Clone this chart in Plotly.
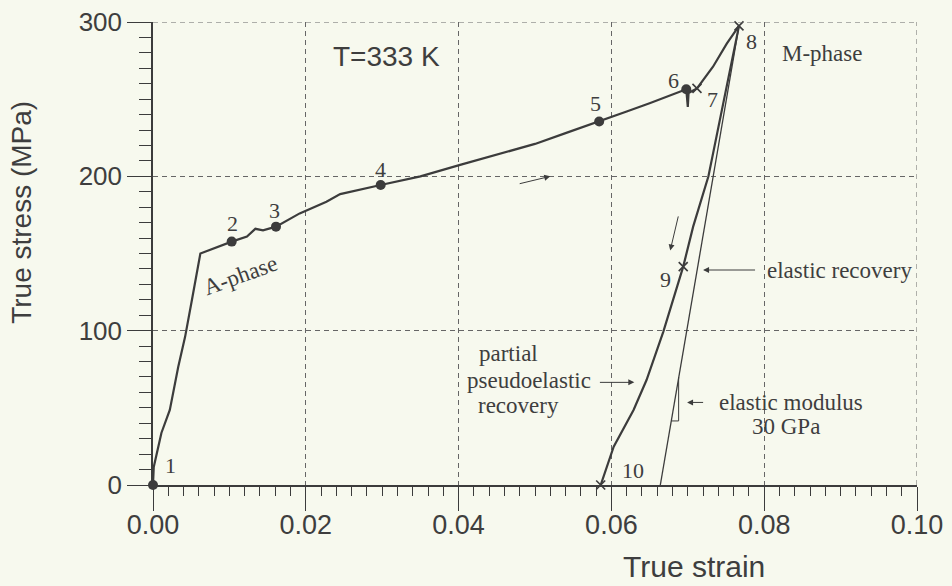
import plotly.graph_objects as go

# Loading path: A-phase elastic, plateau, then M-phase loading up to point 8
load_strain = [0, 0.0001, 0.0011, 0.0022, 0.0033, 0.0042, 0.0051, 0.0062, 0.0103,
               0.0123, 0.0134, 0.0144, 0.0161, 0.0192, 0.0227, 0.0245, 0.0298, 0.0350,
               0.0402, 0.0450, 0.0500, 0.0540, 0.0584, 0.0620, 0.0650, 0.0698, 0.0700,
               0.0701, 0.0712, 0.0733, 0.0751, 0.0767]
load_stress = [0, 11.7, 33.7, 48.6, 76.5, 96, 120, 150, 157.7,
               161, 166, 165, 167.4, 176, 183.6, 188.5, 194.4, 200,
               207.4, 214, 221, 228, 235.5, 242, 247.4, 256.4, 245,
               254, 257, 271, 286, 297.5]

# Unloading path 8 -> 9 -> 10 (partial pseudoelastic recovery)
unload_strain = [0.0767, 0.0727, 0.0707, 0.0694, 0.0668, 0.0646, 0.0629, 0.0603, 0.0586]
unload_stress = [297.5, 200, 167.4, 141.5, 99.4, 68, 48.6, 24.8, 0]

# Purely elastic recovery line from point 8
elastic_strain = [0.0767, 0.0664]
elastic_stress = [297.5, 0]

# Slope triangle on the elastic line
tri_strain = [0.06784, 0.0688, 0.0688]
tri_stress = [41.5, 41.5, 70]

# Numbered states
dot_labels = ["1", "2", "3", "4", "5", "6"]
dot_strain = [0, 0.0103, 0.0161, 0.0298, 0.0584, 0.0698]
dot_stress = [0, 157.7, 167.4, 194.4, 235.5, 256.4]
cross_labels = ["7", "8", "9", "10"]
cross_strain = [0.0712, 0.0767, 0.0694, 0.0586]
cross_stress = [257, 297.5, 141.5, 0]

x_ticks = [0, 0.02, 0.04, 0.06, 0.08, 0.10]
y_ticks = [0, 100, 200, 300]

INK = "#3c3c3c"
TXT = "#3e3e3e"
GRID = "#666666"
BG = "#f7f9ee"
SERIF = "Liberation Serif, Times New Roman, serif"
SANS = "Liberation Sans, Arial, sans-serif"

fig = go.Figure()
fig.add_trace(go.Scatter(x=load_strain, y=load_stress, mode="lines",
                         line=dict(color=INK, width=2.2), hoverinfo="skip"))
fig.add_trace(go.Scatter(x=unload_strain, y=unload_stress, mode="lines",
                         line=dict(color=INK, width=2.2), hoverinfo="skip"))
fig.add_trace(go.Scatter(x=elastic_strain, y=elastic_stress, mode="lines",
                         line=dict(color=INK, width=1.3), hoverinfo="skip"))
fig.add_trace(go.Scatter(x=tri_strain, y=tri_stress, mode="lines",
                         line=dict(color=INK, width=1), hoverinfo="skip"))
fig.add_trace(go.Scatter(x=dot_strain, y=dot_stress, mode="markers",
                         marker=dict(color=INK, size=10, symbol="circle"),
                         cliponaxis=False, hoverinfo="skip"))
fig.add_trace(go.Scatter(x=cross_strain, y=cross_stress, mode="markers",
                         marker=dict(color=INK, size=9, symbol="x-thin",
                                     line=dict(color=INK, width=1.6)),
                         cliponaxis=False, hoverinfo="skip"))

# dashed grid lines on the upper and right edges of the frame
fig.add_shape(type="line", xref="x", yref="y", x0=x_ticks[0], x1=x_ticks[-1],
              y0=y_ticks[-1], y1=y_ticks[-1], line=dict(color=GRID, width=1, dash="5px,4px"))
fig.add_shape(type="line", xref="x", yref="y", x0=x_ticks[-1], x1=x_ticks[-1],
              y0=y_ticks[0], y1=y_ticks[-1], line=dict(color=GRID, width=1, dash="5px,4px"))

# point labels, offset in pixels from each state
label_shift = {"1": (17, 20), "2": (1, 18), "3": (-2, 16), "4": (0, 15), "5": (-4, 18),
               "6": (-13, 9), "7": (16, -11), "8": (13, -16), "9": (-18, -13), "10": (32, 15)}
for lab, xv, yv in zip(dot_labels + cross_labels, dot_strain + cross_strain,
                       dot_stress + cross_stress):
    dx, dy = label_shift[lab]
    fig.add_annotation(x=xv, y=yv, text=lab, showarrow=False, xshift=dx, yshift=dy,
                       font=dict(family=SERIF, size=22, color=TXT))

def note(x, y, text, size=23, family=SERIF, angle=0):
    fig.add_annotation(x=x, y=y, text=text, showarrow=False, textangle=angle,
                       font=dict(family=family, size=size, color=TXT))

note(0.0305, 277.4, "T=333 K", size=28, family=SANS)
note(0.0875, 279.8, "M-phase")
note(0.0114, 136, "A-phase", angle=-20)
note(0.0898, 139.3, "elastic recovery")
note(0.0465, 84.9, "partial")
note(0.0492, 67.9, "pseudoelastic")
note(0.0479, 51.7, "recovery")
note(0.0835, 53.5, "elastic modulus")
note(0.0829, 38.0, "30 GPa")

# axis titles
fig.add_annotation(xref="paper", yref="paper", x=0.708, y=-0.177, text="True strain",
                   showarrow=False, xanchor="center", yanchor="middle",
                   font=dict(family=SANS, size=30, color=TXT))
fig.add_annotation(xref="paper", yref="paper", x=-0.1715, y=0.59, text="True stress (MPa)",
                   showarrow=False, xanchor="center", yanchor="middle", textangle=-90,
                   font=dict(family=SANS, size=28, color=TXT))

def arrow(x0, y0, x1, y1, width=1):
    fig.add_annotation(x=x1, y=y1, ax=x0, ay=y0, xref="x", yref="y", axref="x", ayref="y",
                       text="", showarrow=True, arrowhead=2, arrowsize=1.2,
                       arrowwidth=width, arrowcolor=INK)

arrow(0.0478, 195, 0.0520, 200)          # loading direction
arrow(0.0688, 175, 0.0677, 152)          # unloading direction
arrow(0.0790, 139.3, 0.0720, 139.3)      # elastic recovery pointer
arrow(0.0583, 66.5, 0.0630, 66.5)        # pseudoelastic pointer
arrow(0.0722, 53.5, 0.0699, 53.5)        # modulus pointer

fig.update_layout(
    width=952, height=586,
    margin=dict(l=153, r=35, t=22, b=101),
    paper_bgcolor=BG, plot_bgcolor=BG,
    showlegend=False,
    font=dict(family=SANS, color=TXT),
)
fig.update_xaxes(
    range=[0, 0.10], tickvals=x_ticks, tickformat=".2f",
    showline=True, linecolor=INK, linewidth=1.5,
    ticks="outside", ticklen=24, tickwidth=1, tickcolor=INK,
    ticklabelstandoff=-9,
    minor=dict(dtick=0.002, ticks="outside", ticklen=9, tickcolor=INK, tickwidth=1, showgrid=False),
    showgrid=True, gridcolor=GRID, griddash="5px,4px", gridwidth=1,
    zeroline=False, automargin=False,
    tickfont=dict(size=27, family=SANS, color=TXT),
)
fig.update_yaxes(
    range=[0, 300], tickvals=y_ticks,
    showline=True, linecolor=INK, linewidth=1.5,
    ticks="outside", ticklen=24, tickwidth=1, tickcolor=INK,
    minor=dict(dtick=10, ticks="outside", ticklen=12, tickcolor=INK, tickwidth=1, showgrid=False),
    showgrid=True, gridcolor=GRID, griddash="5px,4px", gridwidth=1,
    zeroline=False, automargin=False,
    tickfont=dict(size=26, family=SANS, color=TXT),
)

fig.write_html("out.html")
